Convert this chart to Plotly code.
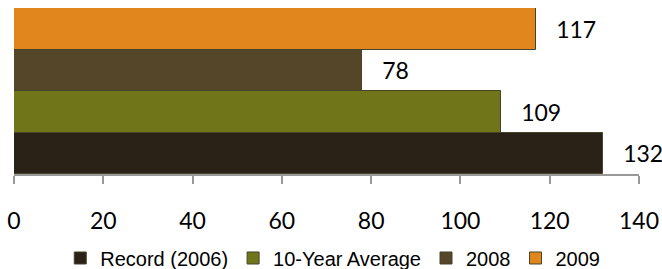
import plotly.graph_objects as go

series_names = ["Record (2006)", "10-Year Average", "2008", "2009"]
series_values = [132, 109, 78, 117]
series_colors = ["#2A2217", "#71751A", "#554529", "#E0861D"]
category = [""]
x_ticks = [0, 20, 40, 60, 80, 100, 120, 140]

NUM_FONT = "Lato, sans-serif"

fig = go.Figure()
for name, val, col in zip(series_names, series_values, series_colors):
    fig.add_trace(go.Bar(
        name=name, y=category, x=[val], orientation="h",
        marker=dict(color=col, line=dict(color="#45432A", width=1)),
        text=[val], texttemplate="\u00a0\u00a0\u00a0%{x}", textposition="outside",
        textfont=dict(family=NUM_FONT, size=23, color="#000000"),
        cliponaxis=False,
    ))

fig.update_layout(
    template="none",
    width=662, height=269,
    margin=dict(l=14, r=23, t=8, b=95, autoexpand=False),
    barmode="group", bargap=0, bargroupgap=0,
    plot_bgcolor="white", paper_bgcolor="white",
    showlegend=True,
    legend=dict(orientation="h", x=0.074, xanchor="left", y=-0.506, yanchor="middle",
                font=dict(family="Liberation Sans, Arial, sans-serif", size=20, color="#000000"),
                traceorder="normal", itemwidth=30, tracegroupgap=0, bgcolor="rgba(0,0,0,0)"),
    xaxis=dict(range=[0, 140], tickvals=x_ticks, ticks="outside", ticklen=8, tickwidth=2,
               tickcolor="#999999", showline=True, linecolor="#999999", linewidth=2,
               showgrid=False, zeroline=False, ticklabelstandoff=17, automargin=False,
               tickfont=dict(family=NUM_FONT, size=23, color="#000000")),
    yaxis=dict(showticklabels=False, showgrid=False, zeroline=False, showline=False, ticks="",
               automargin=False),
)

fig.write_html("out.html", config={"displayModeBar": False},
               post_script="document.body.style.margin='0';document.body.style.padding='0';")
